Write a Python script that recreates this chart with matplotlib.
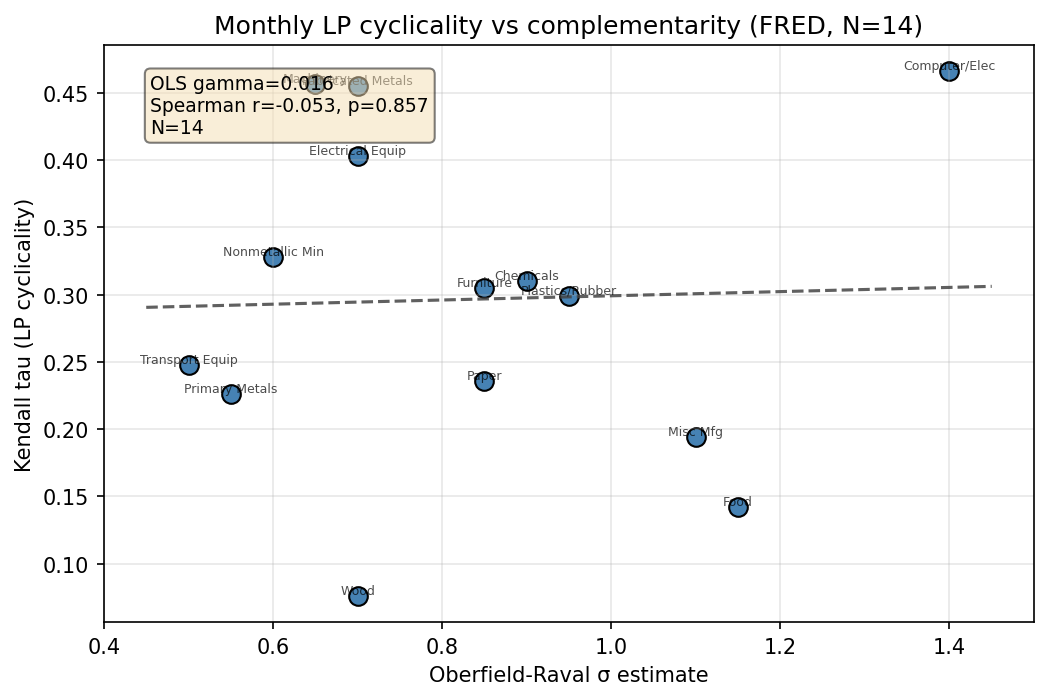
import numpy as np
import matplotlib
matplotlib.use("Agg")
import matplotlib.pyplot as plt

industries = ["Machinery", "Fabricated Metals", "Electrical Equip", "Computer/Elec",
              "Nonmetallic Min", "Chemicals", "Furniture", "Plastics/Rubber",
              "Transport Equip", "Primary Metals", "Paper", "Misc Mfg", "Food", "Wood"]
sigma = [0.65, 0.70, 0.70, 1.40, 0.60, 0.90, 0.85, 0.95, 0.50, 0.55, 0.85, 1.10, 1.15, 0.70]
tau = [0.457, 0.455, 0.403, 0.466, 0.328, 0.310, 0.305, 0.299, 0.248, 0.226, 0.236,
       0.194, 0.142, 0.076]

# OLS line as shown in the chart
gamma = 0.0156
intercept = 0.2836
spearman_r = -0.053
spearman_p = 0.857

fig, ax = plt.subplots(figsize=(1049 / 150, 701 / 150), dpi=150)
fig.subplots_adjust(left=0.0991, right=0.9857, top=0.934, bottom=0.111)

ax.scatter(sigma, tau, s=80, color="steelblue", edgecolors="black", linewidths=1.0)
for name, x, y in zip(industries, sigma, tau):
    ax.annotate(name, (x, y), xytext=(0, 1), textcoords="offset points",
                ha="center", fontsize=6, alpha=0.7)

xs = np.linspace(0.45, 1.45, 50)
ax.plot(xs, intercept + gamma * xs, "--", color="#444444", alpha=0.85, linewidth=1.5)

txt = f"OLS gamma={gamma:.3f}\nSpearman r={spearman_r:.3f}, p={spearman_p:.3f}\nN={len(tau)}"
ax.text(0.05, 0.95, txt, transform=ax.transAxes, fontsize=9, va="top",
        bbox=dict(boxstyle="round", facecolor="wheat", alpha=0.5))

ax.set_xlim(0.4, 1.5)
ax.set_xlabel("Oberfield-Raval σ estimate")
ax.set_ylabel("Kendall tau (LP cyclicality)")
ax.set_title(f"Monthly LP cyclicality vs complementarity (FRED, N={len(tau)})")
ax.grid(True, alpha=0.3)

fig.savefig("out.png", dpi=150)
